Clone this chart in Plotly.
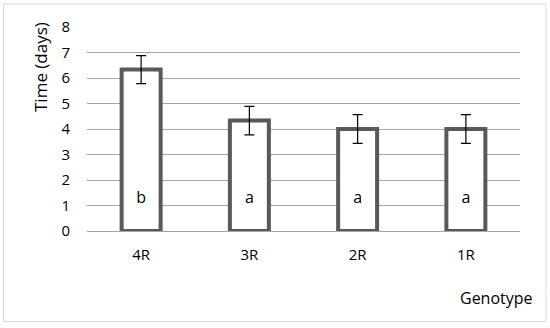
import plotly.graph_objects as go

genotypes = ["4R", "3R", "2R", "1R"]
time_days = [6.33, 4.33, 4.0, 4.0]
errors = [0.55, 0.56, 0.56, 0.56]
letters = ["b", "a", "a", "a"]
letter_y = [1.27, 1.27, 1.27, 1.27]
y_ticks = [0, 1, 2, 3, 4, 5, 6, 7, 8]

FONT = "Open Sans"
W, H = 550, 328
L, R, T, B = 87, 30, 27, 97
pw, ph = W - L - R, H - T - B

def px_x(p):
    return (p - L) / pw

def px_y(p):
    return (H - B - p) / ph

fig = go.Figure()
fig.add_trace(go.Bar(
    x=genotypes, y=time_days, width=0.36,
    marker=dict(color="white", line=dict(color="#595959", width=4)),
    error_y=dict(type="data", array=errors, color="black", thickness=1.2, width=5),
    showlegend=False, hoverinfo="skip",
))
fig.add_trace(go.Scatter(
    x=genotypes, y=letter_y, mode="text", text=letters,
    textfont=dict(family=FONT, size=16, color="#000000"),
    showlegend=False, hoverinfo="skip",
))

fig.update_layout(
    width=W, height=H,
    margin=dict(l=L, r=R, t=T, b=B),
    paper_bgcolor="white", plot_bgcolor="white",
    font=dict(family=FONT, size=15, color="#000000"),
    xaxis=dict(showgrid=False, showline=False, ticks="", tickfont=dict(size=15),
               ticklabelstandoff=13, automargin=False),
    yaxis=dict(range=[0, 8], tickvals=y_ticks, showgrid=True, gridcolor="#a6a6a6",
               gridwidth=1, zeroline=True, zerolinecolor="#a6a6a6", zerolinewidth=1,
               showline=False, ticks="", tickfont=dict(size=15), ticklabelstandoff=16,
               automargin=False),
    shapes=[dict(type="rect", xref="paper", yref="paper",
                 x0=px_x(3.5), x1=px_x(546), y0=px_y(321.5), y1=px_y(4),
                 line=dict(color="#d9d9d9", width=1), fillcolor="rgba(0,0,0,0)", layer="below")],
    annotations=[
        dict(text="Time (days)", xref="paper", yref="paper", x=px_x(40), y=px_y(67),
             textangle=-90, showarrow=False, font=dict(size=17), xanchor="center", yanchor="middle"),
        dict(text="Genotype", xref="paper", yref="paper", x=px_x(496), y=px_y(298),
             showarrow=False, font=dict(size=16), xanchor="center", yanchor="middle"),
    ],
)

fig.write_html("out.html", config={"displayModeBar": False},
               post_script="document.body.style.margin='0';")
